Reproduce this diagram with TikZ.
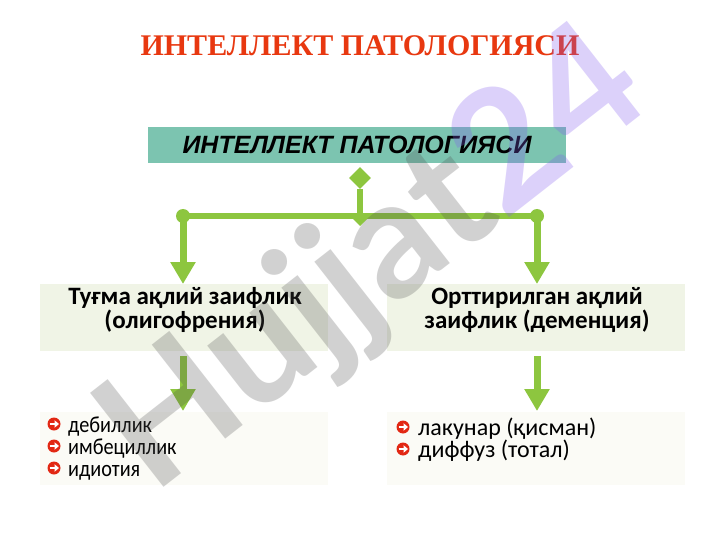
\documentclass[tikz,border=0pt]{standalone}
\usepackage{fontspec}
\setmainfont{Carlito}
\newfontfamily\titlefont{Liberation Serif}
\newfontfamily\arialf{Liberation Sans}
\newfontfamily\wmfont{Lato}
\usetikzlibrary{arrows.meta,shapes.geometric}
\definecolor{titlered}{RGB}{232,56,16}
\definecolor{teal1}{RGB}{124,196,176}
\definecolor{grn}{RGB}{141,198,63}
\definecolor{midbox}{RGB}{240,244,230}
\definecolor{lowbox}{RGB}{251,251,246}
\definecolor{bulred}{RGB}{226,40,20}
\definecolor{wmgray}{RGB}{80,80,80}
\definecolor{wmpurple}{RGB}{130,90,240}
\tikzset{
  conn/.style={grn, line width=6pt},
  arr/.style={grn, line width=7pt, -{Triangle[width=24pt,length=22pt]}},
  dotend/.style={circle, fill=grn, minimum size=14pt, inner sep=0pt},
  midtxt/.style={font=\fontsize{25}{24}\selectfont\bfseries, align=center, text=black},
  lowtxt/.style={font=\fontsize{23}{22}\selectfont, anchor=base west, inner sep=0pt},
  bul/.pic={\fill[bulred] (0,0) circle (6.5);
            \draw[white, line width=2pt] (-4.5,0) -- (1.5,0);
            \fill[white] (0.5,-3.8) -- (5,0) -- (0.5,3.8) -- cycle;}
}
\begin{document}
\begin{tikzpicture}[x=1pt,y=-1pt]
\useasboundingbox (0,0) rectangle (720,540);
\fill[white] (0,0) rectangle (720,540);
% title
\node[font=\titlefont\fontsize{30}{31}\selectfont\bfseries, text=titlered] (title) at (360,46) {ИНТЕЛЛЕКТ ПАТОЛОГИЯСИ};
% top box
\fill[teal1] (148,127) rectangle (566,163);
\node[font=\arialf\fontsize{25}{26}\selectfont\bfseries\itshape] (top) at (357,145) {ИНТЕЛЛЕКТ ПАТОЛОГИЯСИ};
% middle boxes
\fill[midbox] (40,284) rectangle (328,351);
\fill[midbox] (387,284) rectangle (685,351);
\node[midtxt] (mL) at (185,310) {Туғма ақлий заифлик\\(олигофрения)};
\node[midtxt] (mR) at (537,310) {Орттирилган ақлий\\заифлик (деменция)};
% lower boxes
\fill[lowbox] (40,412) rectangle (328,485);
\fill[lowbox] (387,412) rectangle (685,485);
% connectors
\node[diamond, fill=grn, minimum size=22pt, inner sep=0pt] (dia) at (360,178) {};
\coordinate (junc) at (360,216);
\node[dotend] (dL) at (183,216) {};
\node[dotend] (dR) at (537,216) {};
\draw[conn] (dia.south) -- (junc);
\draw[conn] (dL.center) -- (dR.center);
\fill[grn] (353,219) -- (367,219) -- (360,226) -- cycle;
\coordinate (aL) at (183,284);
\coordinate (aR) at (537,284);
\draw[arr] (dL.center) -- (aL);
\draw[arr] (dR.center) -- (aR);
\coordinate (bL1) at (183,356);
\coordinate (bR1) at (537,356);
\coordinate (bL2) at (183,411);
\coordinate (bR2) at (537,411);
\draw[arr] (bL1) -- (bL2);
\draw[arr] (bR1) -- (bR2);
% lists
\pic at (54,424) {bul};
\pic at (54,446) {bul};
\pic at (54,468) {bul};
\node[lowtxt] (l1) at (68,432) {\scalebox{0.88}[1]{дебиллик}};
\node[lowtxt] (l2) at (68,454) {\scalebox{0.88}[1]{имбециллик}};
\node[lowtxt] (l3) at (68,476) {\scalebox{0.88}[1]{идиотия}};
\pic at (403,427) {bul};
\pic at (403,449) {bul};
\node[lowtxt, font=\fontsize{24}{22}\selectfont] (r1) at (418,435) {лакунар (қисман)};
\node[lowtxt, font=\fontsize{24}{22}\selectfont] (r2) at (418,457) {диффуз (тотал)};
% watermark
\node[rotate=38, font=\wmfont\fontsize{165}{165}\selectfont\bfseries, inner sep=0pt] (wm) at (376,263)
  {\textcolor{wmgray}{\pgfsetfillopacity{0.26}Hujjat}\textcolor{wmpurple}{\pgfsetfillopacity{0.28}24}};
\end{tikzpicture}
\end{document}
